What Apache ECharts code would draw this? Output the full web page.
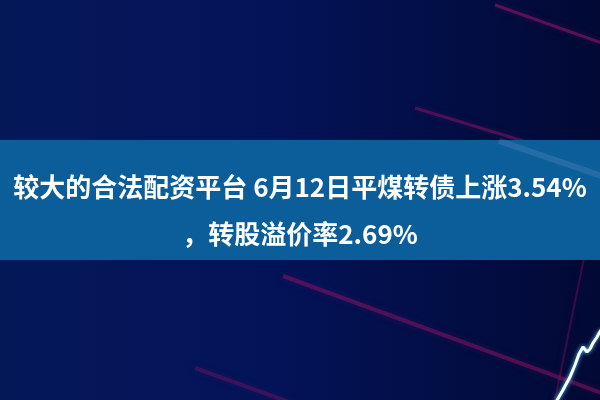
<!DOCTYPE html>
<html><head><meta charset="utf-8">
<script src="https://cdn.jsdelivr.net/npm/echarts@6/dist/echarts.min.js"></script>
<style>html,body{margin:0;padding:0;background:#020b38;}#c{width:600px;height:400px;}</style>
</head><body><div id="c"></div>
<script>
// Title lines
var titleLines = ['较大的合法配资平台 6月12日平煤转债上涨3.54%', '，转股溢价率2.69%'];
// White price line (x, y in picture-space units)
var priceX = [556, 563, 570, 575, 579, 583, 587, 590, 593, 597, 601];
var priceY = [402, 390, 377, 365, 354, 347, 352, 349, 343, 337, 330];
// Magenta streaks
var streak1 = [[495, 5], [602, 43]];
var streak2 = [[415, 108], [602, 165]];
var streak3 = [[283, 276], [602, 393]];
var streak4 = [[195, 368], [350, 424]];
var streak5 = [[584, 258], [550, 424]];

var chart = echarts.init(document.getElementById('c'));
function pairs(xs, ys){ return xs.map(function(x,i){ return [x, ys[i]]; }); }
function streak(d, w, op){
  return {type:'line', data:d, symbol:'none', silent:true, z:1,
    lineStyle:{color:'rgba(140,20,100,'+op+')', width:w, shadowBlur:6, shadowColor:'rgba(140,20,100,0.5)'}};
}
chart.setOption({
  animation:false,
  backgroundColor:{type:'linear', x:0, y:0, x2:1, y2:0, colorStops:[
    {offset:0, color:'#041858'}, {offset:0.45, color:'#031358'}, {offset:1, color:'#010934'}]},
  grid:{left:0, right:0, top:0, bottom:0},
  xAxis:{type:'value', min:0, max:600, show:false},
  yAxis:{type:'value', min:0, max:400, inverse:true, show:false},
  series:[
    streak(streak1, 3, 0.6),
    streak(streak2, 3, 0.5),
    streak(streak3, 4, 0.5),
    streak(streak4, 4, 0.35),
    streak(streak5, 2, 0.35),
    {type:'line', data:pairs(priceX, priceY), symbol:'none', z:3,
      lineStyle:{color:'#ffffff', width:3, shadowBlur:4, shadowColor:'#4fd8ff'}}
  ],
  graphic:[
    {type:'rect', z:10, shape:{x:0, y:140, width:600, height:120}, style:{fill:'#0b5e99'}},
    {type:'rect', z:11, rotation:-0.33, x:500, y:138, shape:{x:0, y:0, width:160, height:6},
      style:{fill:'rgba(140,165,225,0.18)', shadowBlur:10, shadowColor:'rgba(140,165,225,0.4)'}},
    {type:'text', z:12, x:300, y:187, style:{text:titleLines[0], fill:'#ffffff',
      font:'bold 26px "Noto Sans CJK SC"', textAlign:'center', textVerticalAlign:'middle'}},
    {type:'text', z:12, x:300, y:234, style:{text:titleLines[1], fill:'#ffffff',
      font:'bold 26px "Noto Sans CJK SC"', textAlign:'center', textVerticalAlign:'middle'}}
  ]
});
</script></body></html>
